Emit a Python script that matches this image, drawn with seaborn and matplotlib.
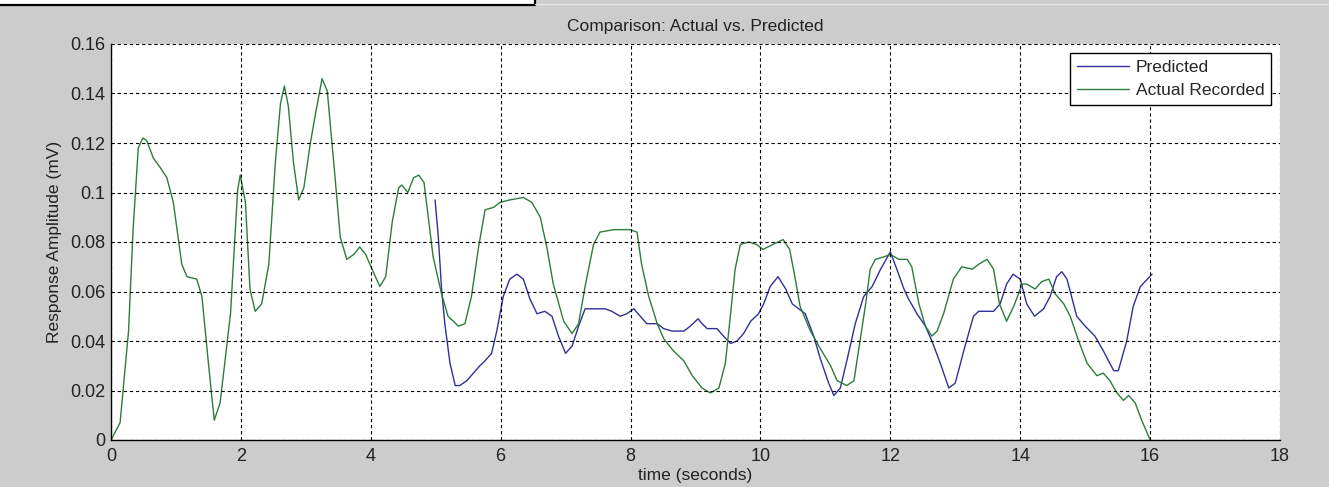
import matplotlib
matplotlib.use("Agg")
import matplotlib.pyplot as plt
import seaborn as sns
from matplotlib.patches import Rectangle
from matplotlib.lines import Line2D

# Actual Recorded (green)
t_actual = [0, 0.14, 0.27, 0.34, 0.42, 0.49, 0.55, 0.65, 0.76, 0.86, 0.96, 1.09, 1.17, 1.32, 1.40,
            1.50, 1.59, 1.68, 1.84, 1.95, 1.99, 2.07, 2.14, 2.22, 2.32, 2.43, 2.53, 2.61, 2.67, 2.73,
            2.81, 2.89, 2.97, 3.07, 3.15, 3.25, 3.33, 3.43, 3.53, 3.63, 3.74, 3.83, 3.92, 4.02, 4.14,
            4.23, 4.33, 4.43, 4.48, 4.57, 4.66, 4.74, 4.82, 4.96, 5.09, 5.19, 5.35, 5.45, 5.55, 5.66,
            5.76, 5.89, 5.99, 6.14, 6.35, 6.48, 6.61, 6.71, 6.81, 6.97, 7.10, 7.20, 7.30, 7.43, 7.53,
            7.74, 7.99, 8.10, 8.17, 8.28, 8.41, 8.51, 8.66, 8.82, 8.95, 9.10, 9.23, 9.36, 9.46, 9.54,
            9.61, 9.69, 9.82, 9.94, 10.04, 10.19, 10.35, 10.45, 10.53, 10.61, 10.77, 10.92, 11.08,
            11.18, 11.33, 11.44, 11.51, 11.62, 11.69, 11.77, 11.90, 12.00, 12.13, 12.26, 12.33, 12.44,
            12.54, 12.64, 12.72, 12.82, 12.97, 13.10, 13.26, 13.36, 13.49, 13.59, 13.68, 13.79, 13.90,
            14.03, 14.10, 14.23, 14.33, 14.44, 14.54, 14.67, 14.77, 14.90, 15.03, 15.18, 15.28, 15.38,
            15.49, 15.59, 15.67, 15.77, 15.87, 16.00]
v_actual = [0, 0.007, 0.044, 0.085, 0.118, 0.122, 0.121, 0.114, 0.110, 0.106, 0.096, 0.071, 0.066,
            0.065, 0.058, 0.031, 0.008, 0.015, 0.051, 0.101, 0.107, 0.096, 0.061, 0.052, 0.055, 0.071,
            0.112, 0.136, 0.143, 0.135, 0.112, 0.097, 0.102, 0.120, 0.132, 0.146, 0.141, 0.112, 0.082,
            0.073, 0.075, 0.078, 0.075, 0.069, 0.062, 0.066, 0.088, 0.102, 0.103, 0.100, 0.106, 0.107,
            0.104, 0.074, 0.059, 0.050, 0.046, 0.047, 0.058, 0.078, 0.093, 0.094, 0.096, 0.097, 0.098,
            0.096, 0.090, 0.078, 0.063, 0.048, 0.043, 0.047, 0.062, 0.079, 0.084, 0.085, 0.085, 0.084,
            0.071, 0.058, 0.047, 0.041, 0.036, 0.032, 0.026, 0.021, 0.019, 0.021, 0.031, 0.051, 0.069,
            0.079, 0.080, 0.079, 0.077, 0.079, 0.081, 0.077, 0.066, 0.054, 0.044, 0.037, 0.030, 0.024,
            0.022, 0.024, 0.036, 0.055, 0.069, 0.073, 0.074, 0.075, 0.073, 0.073, 0.070, 0.055, 0.046,
            0.042, 0.044, 0.051, 0.065, 0.070, 0.069, 0.071, 0.073, 0.069, 0.055, 0.048, 0.054, 0.063,
            0.063, 0.061, 0.064, 0.065, 0.059, 0.055, 0.050, 0.040, 0.031, 0.026, 0.027, 0.024, 0.019,
            0.016, 0.018, 0.015, 0.008, 0.0]

# Predicted (blue)
t_pred = [4.99, 5.04, 5.09, 5.14, 5.22, 5.30, 5.37, 5.48, 5.58, 5.68, 5.76, 5.86, 5.94, 6.04, 6.14,
          6.25, 6.35, 6.45, 6.56, 6.68, 6.79, 6.89, 7.00, 7.10, 7.20, 7.30, 7.40, 7.61, 7.71, 7.84,
          7.94, 8.05, 8.15, 8.25, 8.41, 8.51, 8.64, 8.82, 8.92, 9.04, 9.10, 9.18, 9.33, 9.43, 9.54,
          9.64, 9.74, 9.85, 9.97, 10.05, 10.15, 10.27, 10.39, 10.49, 10.59, 10.69, 10.82, 10.92,
          11.05, 11.13, 11.23, 11.33, 11.46, 11.59, 11.72, 11.85, 12.00, 12.10, 12.21, 12.28, 12.41,
          12.54, 12.64, 12.77, 12.90, 13.00, 13.13, 13.28, 13.36, 13.59, 13.69, 13.79, 13.89, 14.00,
          14.10, 14.22, 14.36, 14.46, 14.56, 14.64, 14.72, 14.87, 15.00, 15.15, 15.28, 15.44, 15.51,
          15.64, 15.74, 15.85, 16.03]
v_pred = [0.097, 0.082, 0.061, 0.047, 0.031, 0.022, 0.022, 0.024, 0.027, 0.030, 0.032, 0.035, 0.044,
          0.058, 0.065, 0.067, 0.065, 0.057, 0.051, 0.052, 0.050, 0.042, 0.035, 0.038, 0.046, 0.053,
          0.053, 0.053, 0.052, 0.050, 0.051, 0.053, 0.050, 0.047, 0.047, 0.045, 0.044, 0.044, 0.046,
          0.049, 0.047, 0.045, 0.045, 0.042, 0.039, 0.040, 0.043, 0.048, 0.051, 0.055, 0.062, 0.066,
          0.061, 0.055, 0.053, 0.051, 0.042, 0.033, 0.023, 0.018, 0.021, 0.032, 0.047, 0.058, 0.062,
          0.069, 0.076, 0.069, 0.061, 0.057, 0.051, 0.046, 0.040, 0.031, 0.021, 0.023, 0.036, 0.050,
          0.052, 0.052, 0.055, 0.063, 0.067, 0.065, 0.055, 0.050, 0.053, 0.058, 0.066, 0.068, 0.065,
          0.050, 0.046, 0.042, 0.036, 0.028, 0.028, 0.040, 0.054, 0.062, 0.067]

x_ticks = list(range(0, 19, 2))
y_ticks = [0, 0.02, 0.04, 0.06, 0.08, 0.1, 0.12, 0.14, 0.16]
y_ticklabels = ['0', '0.02', '0.04', '0.06', '0.08', '0.1', '0.12', '0.14', '0.16']

sns.set_style("white")
plt.rcParams['font.family'] = ['Liberation Sans', 'DejaVu Sans']

fig = plt.figure(figsize=(13.29, 4.87), dpi=100, facecolor='#cccccc')
ax = fig.add_axes([111/1329, 47/487, 1169/1329, 396/487])
ax.set_facecolor('white')

sns.lineplot(x=t_pred, y=v_pred, ax=ax, color='#30309a', lw=1.0, label='Predicted',
             estimator=None, sort=False)
sns.lineplot(x=t_actual, y=v_actual, ax=ax, color='#2c7d3a', lw=1.0, label='Actual Recorded',
             estimator=None, sort=False)

ax.set_xlim(0, 18)
ax.set_ylim(0, 0.16)
ax.set_xticks(x_ticks)
ax.set_yticks(y_ticks)
ax.set_yticklabels(y_ticklabels)
ax.grid(True, color='black', linestyle=(0, (3, 2.5)), linewidth=0.8)
ax.set_axisbelow(False)

for s in ['top', 'right']:
    ax.spines[s].set_visible(False)
for s in ['left', 'bottom']:
    ax.spines[s].set_color('black')
    ax.spines[s].set_linewidth(1.0)

ax.tick_params(axis='both', direction='in', length=8.4, width=0.8, color='black',
               labelsize=13, labelcolor='#222222')
ax.tick_params(axis='x', pad=6)
ax.tick_params(axis='y', pad=4)

ax.set_xlabel('time (seconds)', fontsize=12.5, color='#222222', labelpad=2)
ax.set_ylabel('Response Amplitude (mV)', fontsize=12.5, color='#222222', labelpad=6)
ax.set_title('Comparison: Actual vs. Predicted', fontsize=12.5, color='#222222', pad=9)

leg = ax.legend(loc='upper right', fontsize=12.5, frameon=True, fancybox=False,
                handlelength=3.0, handletextpad=0.4, labelspacing=0.45,
                borderaxespad=0.5, borderpad=0.4)
leg.get_frame().set_edgecolor('black')
leg.get_frame().set_linewidth(1.0)
leg.get_frame().set_facecolor('white')
leg.get_frame().set_alpha(1)

# leftover window edge at the top of the screenshot
fig.add_artist(Rectangle((0, 1 - 4/487), 535/1329, 4/487, transform=fig.transFigure,
                         facecolor='white', edgecolor='none'))
fig.add_artist(Line2D([0, 535/1329], [1 - 4.5/487, 1 - 4.5/487], transform=fig.transFigure,
                      color='black', lw=1.6))
fig.add_artist(Line2D([535/1329, 535/1329], [1 - 4.5/487, 1], transform=fig.transFigure,
                      color='black', lw=1.6))
fig.add_artist(Line2D([535/1329, 1], [1 - 3.5/487, 1 - 3.5/487], transform=fig.transFigure,
                      color='#e6e6e6', lw=1.0))

fig.savefig('out.png', dpi=100, facecolor=fig.get_facecolor())
